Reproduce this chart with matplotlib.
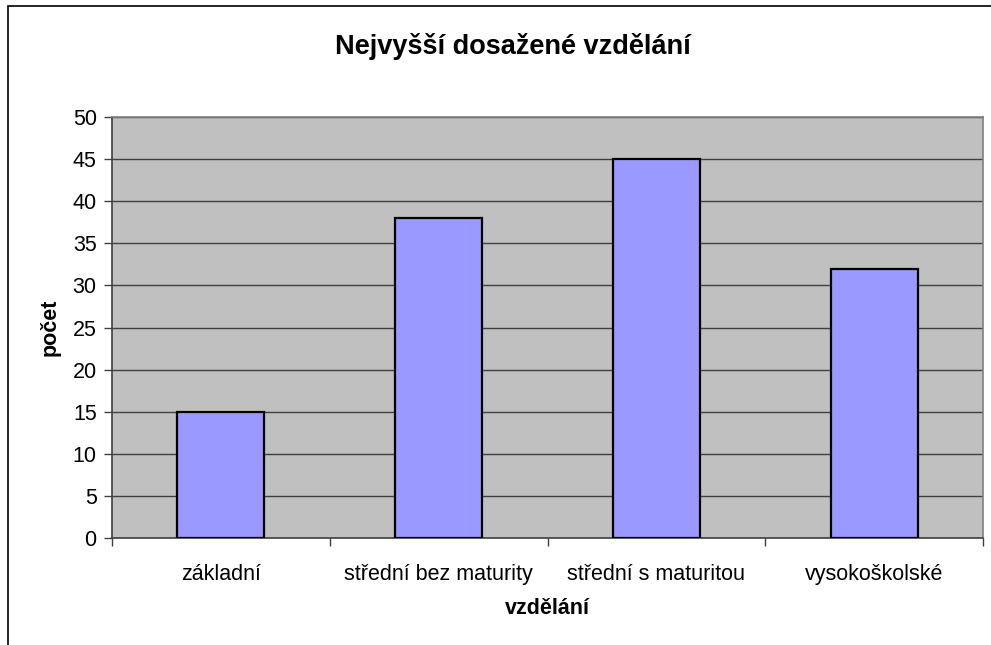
import matplotlib
matplotlib.use('Agg')
import matplotlib.pyplot as plt
from matplotlib.patches import Rectangle
import numpy as np

# data
kategorie = ['základní', 'střední bez maturity', 'střední s maturitou', 'vysokoškolské']
pocet = [15, 38, 45, 32]
y_ticks = [0, 5, 10, 15, 20, 25, 30, 35, 40, 45, 50]

plt.rcParams['font.family'] = ['Liberation Sans', 'DejaVu Sans']

W, H = 991, 645
fig = plt.figure(figsize=(W / 100, H / 100), dpi=100)
fig.patch.set_facecolor('white')

# outer chart frame (left + top visible, rest cut off)
fig.patches.append(Rectangle((8 / W, -0.1), 1.2, 1.1 - 6 / H, transform=fig.transFigure,
                             fill=False, edgecolor='black', linewidth=1.2))

# plot area in pixels: left 112, right 983, top 117, bottom 538
ax = fig.add_axes([112 / W, 1 - 538 / H, (983 - 112) / W, (538 - 117) / H])
ax.set_facecolor('#C0C0C0')

x = np.arange(len(kategorie))
ax.bar(x, pocet, width=0.4, color='#9999FF', edgecolor='black', linewidth=1.6, zorder=3)

ax.set_xlim(-0.5, len(kategorie) - 0.5)
ax.set_ylim(0, 50)
ax.set_yticks(y_ticks)
ax.yaxis.grid(True, color='#404040', linewidth=1.0, zorder=1)
ax.set_axisbelow(True)

ax.set_xticks(x)
ax.set_xticklabels(kategorie, fontsize=15.5)
ax.set_xticks(np.arange(-0.5, len(kategorie), 1.0), minor=True)
ax.tick_params(axis='x', which='major', length=0, pad=19)
ax.tick_params(axis='x', which='minor', length=6, width=1, color='#404040', direction='out')
ax.tick_params(axis='y', length=6, width=1, color='#404040', direction='out', labelsize=15.5, pad=5)

for s in ['top', 'right']:
    ax.spines[s].set_color('#808080')
    ax.spines[s].set_linewidth(1.2)
for s in ['left', 'bottom']:
    ax.spines[s].set_color('#404040')
    ax.spines[s].set_linewidth(1.2)

ax.set_xlabel('vzdělání', fontsize=15.5, fontweight='bold', labelpad=9)
ax.set_ylabel('počet', fontsize=15.5, fontweight='bold', labelpad=9)
fig.text(513 / W, 1 - 46 / H, 'Nejvyšší dosažené vzdělání', ha='center', va='center',
         fontsize=19.5, fontweight='bold')

fig.savefig('out.png', dpi=100)
